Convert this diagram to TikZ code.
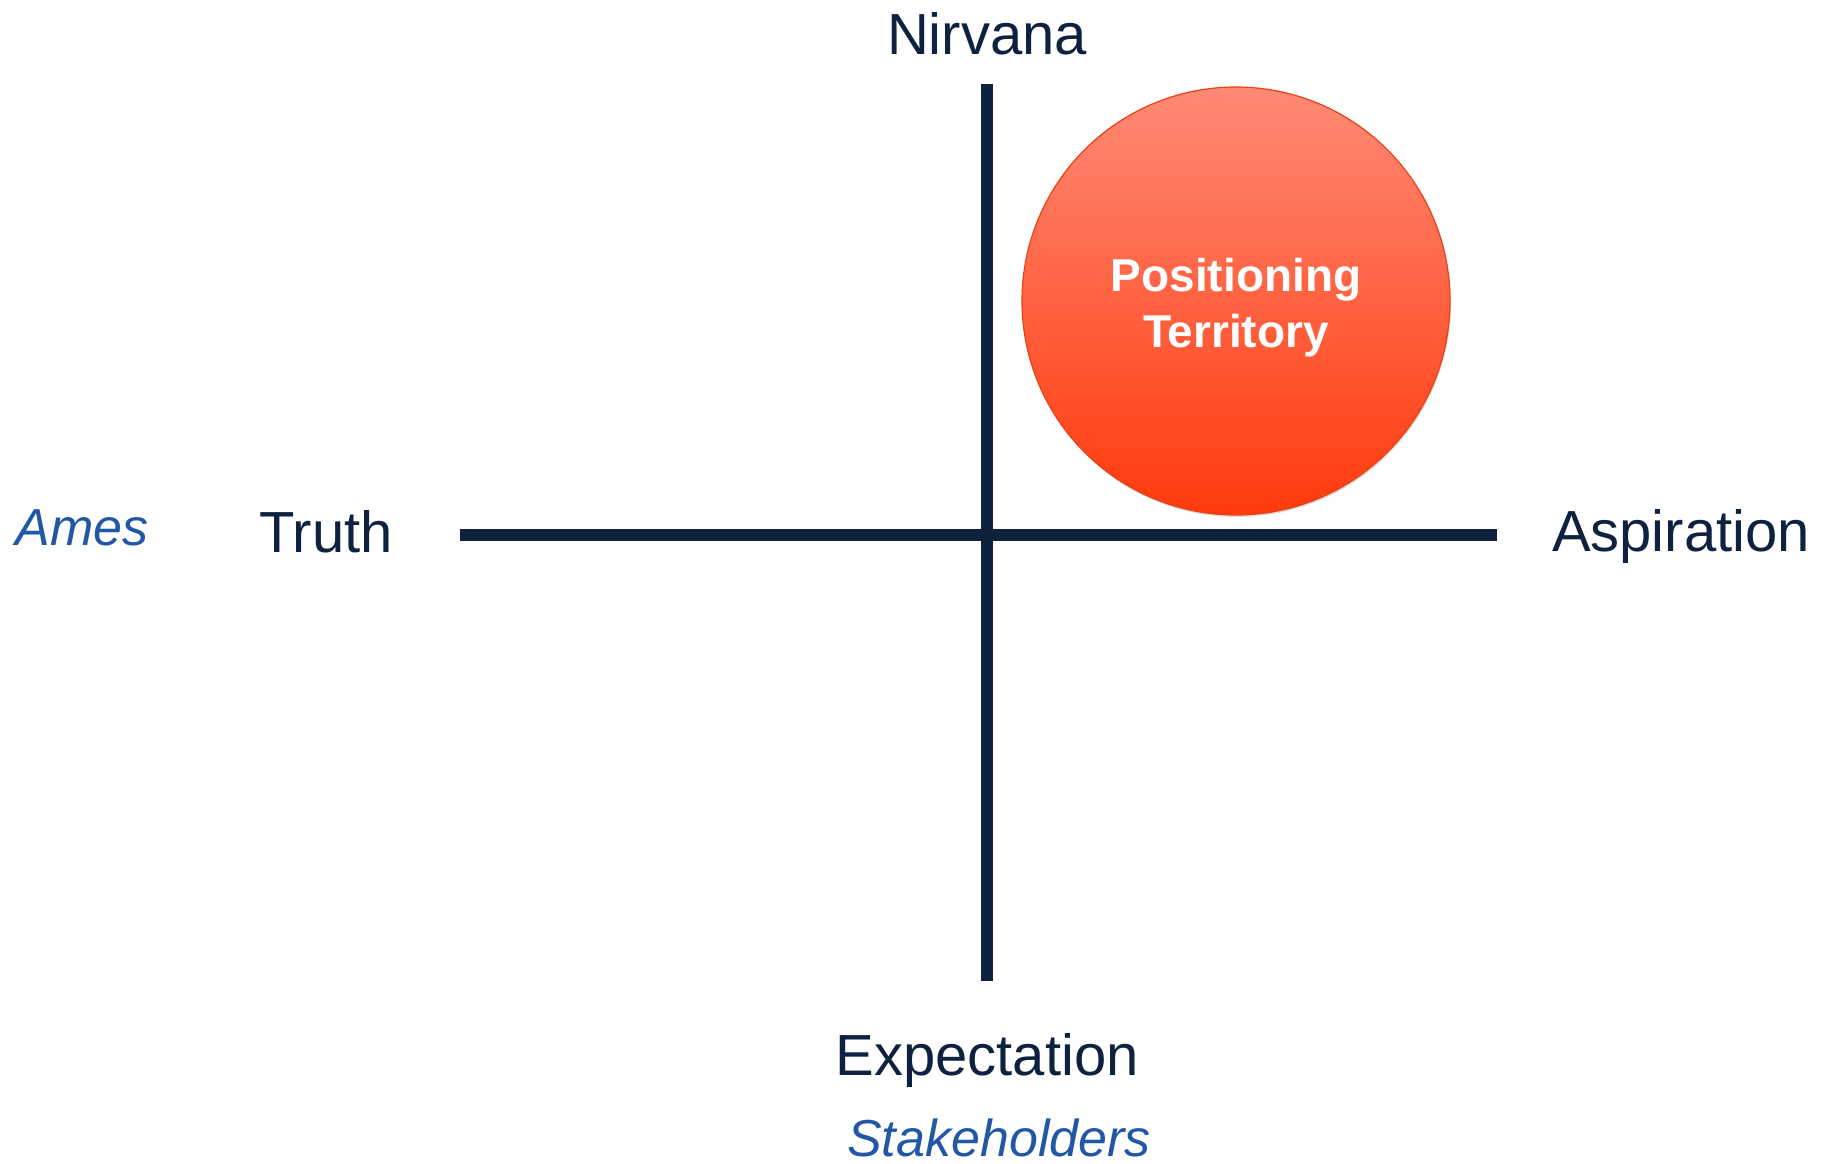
\documentclass[tikz,border=0pt]{standalone}
\usepackage{fontspec}
\setmainfont{Liberation Sans}
\definecolor{navy}{RGB}{14,34,64}
\definecolor{amesblue}{RGB}{33,87,165}
\definecolor{circtop}{RGB}{255,138,118}
\definecolor{circbot}{RGB}{255,58,12}
\definecolor{circedge}{RGB}{232,66,20}
\tikzset{
  axisline/.style={draw=navy,line width=12pt},
  axislabel/.style={text=navy,font=\fontsize{58}{60}\selectfont,anchor=base,inner sep=0pt},
  sidelabel/.style={text=amesblue,font=\fontsize{52}{56}\itshape\selectfont,anchor=base,inner sep=0pt,text depth=0pt},
}
\begin{document}
\begin{tikzpicture}[x=1pt,y=-1pt]
\useasboundingbox (0,0) rectangle (1825,1163);
% axes
\coordinate (vtop) at (987,84);
\coordinate (vbot) at (987,981);
\coordinate (hleft) at (460,535);
\coordinate (hright) at (1497,535);
\draw[axisline] (vtop) -- (vbot);
\draw[axisline] (hleft) -- (hright);
% circle
\fill[gray!45,opacity=0.6] (1237,303) circle (214pt);
\node[circle,minimum size=428pt,inner sep=0pt,draw=circedge,line width=1.2pt,
      top color=circtop,bottom color=circbot] (pt) at (1236,301) {};
\node[text=white,font=\fontsize{46}{56}\bfseries\selectfont,align=center,anchor=base,inner sep=0pt]
  (ptlabel) at (1236,347) {Positioning\\Territory};
% labels
\node[axislabel] (nirvana) at (987,54) {Nirvana};
\node[axislabel] (truth) at (326,552) {Truth};
\node[axislabel] (aspiration) at (1681,551) {Aspiration};
\node[axislabel] (expectation) at (987,1075) {Expectation};
\node[sidelabel] (ames) at (82,545) {Ames};
\node[sidelabel] (stake) at (999,1156) {Stakeholders};
\end{tikzpicture}
\end{document}
